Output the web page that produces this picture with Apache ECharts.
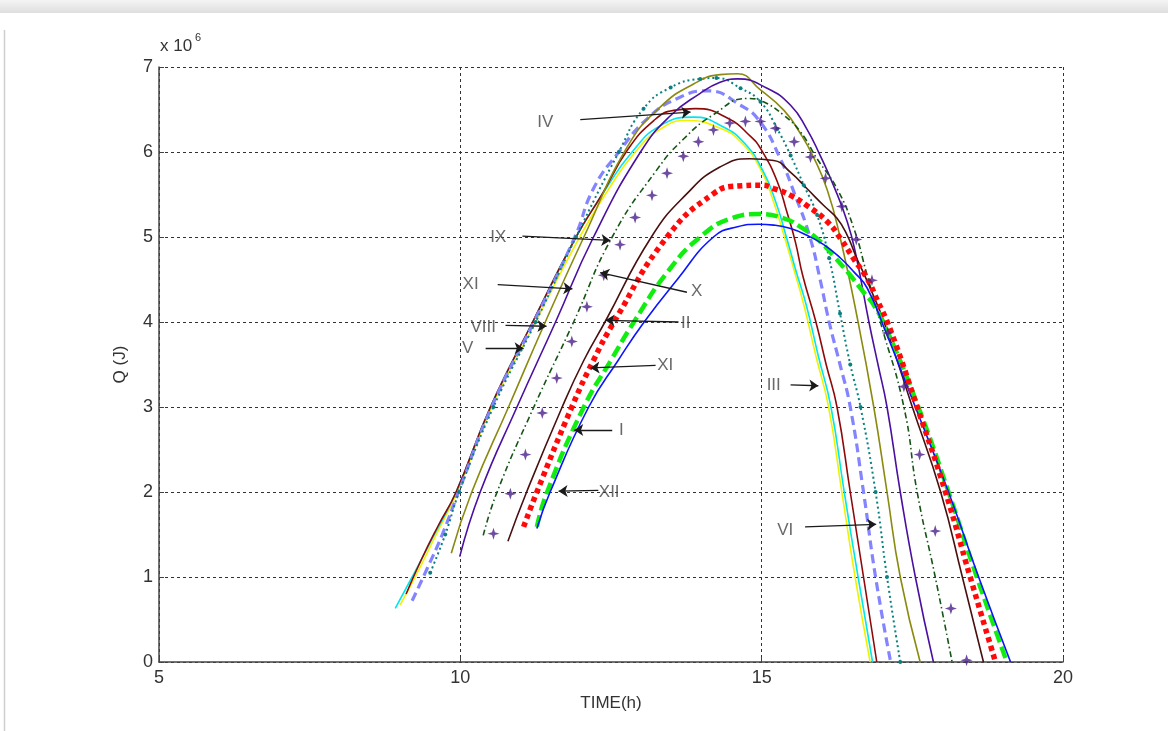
<!DOCTYPE html>
<html>
<head>
<meta charset="utf-8">
<script src="https://cdn.jsdelivr.net/npm/echarts@6/dist/echarts.min.js"></script>
<style>
  html, body { margin: 0; padding: 0; background: #ffffff; }
  #chart { width: 1168px; height: 731px; }
</style>
</head>
<body>
<div id="chart"></div>
<script>
// Heat gain Q (x10^6 J) against time of day (h), one curve per month.
// Each array holds [time (h), Q (x10^6 J)] pairs.
const qYellow = [[9.0,0.67],[9.25,1.0],[9.6,1.5],[9.95,2.0],[10.52,3.0],[11.25,4.0],[11.98,5.0],[12.45,5.55],[12.88,5.98],[13.32,6.27],[13.76,6.37],[14.31,6.28],[14.65,6.12],[14.98,5.8],[15.2,5.41],[15.37,5.02],[15.53,4.63],[15.7,4.2],[15.9,3.6],[16.11,3.0],[16.33,2.0],[16.55,1.0],[16.8,0]];
const qCyan = [[8.92,0.63],[9.2,1.0],[9.57,1.5],[9.93,2.0],[10.5,3.0],[11.2,4.0],[11.92,5.0],[12.4,5.55],[12.85,6.0],[13.32,6.31],[13.87,6.41],[14.35,6.3],[14.72,6.1],[15.02,5.78],[15.24,5.4],[15.41,5.0],[15.57,4.6],[15.74,4.2],[15.94,3.6],[16.15,3.0],[16.37,2.0],[16.6,1.0],[16.84,0]];
const qMaroon = [[9.1,0.8],[9.35,1.2],[9.63,1.6],[9.93,2.0],[10.5,3.0],[11.2,4.0],[11.92,5.0],[12.35,5.5],[12.77,6.02],[13.21,6.37],[13.54,6.49],[13.9,6.51],[14.43,6.4],[14.82,6.18],[15.0,6.02],[15.26,5.65],[15.42,5.29],[15.56,4.94],[15.68,4.55],[15.9,4.0],[16.07,3.5],[16.25,3.0],[16.47,2.0],[16.69,1.0],[16.91,0]];
const qLightBlue = [[9.2,0.72],[9.45,1.1],[9.7,1.5],[9.97,2.0],[10.52,3.0],[11.22,4.0],[11.9,5.0],[12.21,5.57],[12.63,6.0],[13.1,6.39],[13.6,6.63],[14.1,6.72],[14.65,6.55],[14.98,6.35],[15.31,5.92],[15.55,5.5],[15.8,5.0],[15.97,4.5],[16.12,4.0],[16.3,3.5],[16.47,3.0],[16.69,2.0],[16.89,1.0],[17.14,0]];
const qTeal = [[9.5,1.05],[9.75,1.5],[9.98,2.0],[10.55,3.0],[11.25,4.0],[11.92,5.0],[12.63,6.0],[13.04,6.51],[13.49,6.76],[13.98,6.86],[14.25,6.87],[14.65,6.75],[14.98,6.59],[15.26,6.27],[15.48,5.96],[15.7,5.61],[15.92,5.26],[16.12,4.75],[16.3,4.1],[16.47,3.5],[16.64,3.0],[16.89,2.0],[17.08,1.0],[17.3,0]];
const qOlive = [[9.85,1.28],[10.19,2.0],[10.8,3.0],[11.41,4.0],[12.05,5.0],[12.77,6.06],[13.32,6.53],[13.87,6.8],[14.31,6.91],[14.6,6.92],[14.98,6.73],[15.37,6.49],[15.64,6.22],[15.86,5.94],[16.09,5.55],[16.3,5.0],[16.6,4.0],[16.86,3.0],[17.08,2.0],[17.3,1.0],[17.63,0]];
const qIndigo = [[9.99,1.24],[10.33,2.0],[10.94,3.0],[11.58,4.0],[12.21,5.0],[12.99,6.0],[13.49,6.43],[13.98,6.69],[14.31,6.82],[14.6,6.86],[15.09,6.75],[15.48,6.55],[15.75,6.27],[15.97,5.96],[16.19,5.61],[16.42,5.18],[16.56,4.8],[16.78,4.0],[16.93,3.5],[17.08,3.0],[17.3,2.0],[17.55,1.0],[17.85,0]];
const qDashDot = [[10.38,1.49],[10.61,2.0],[11.22,3.0],[11.88,4.0],[12.52,5.0],[13.26,5.79],[13.7,6.15],[14.2,6.44],[14.76,6.63],[15.03,6.59],[15.37,6.43],[15.64,6.24],[15.92,5.92],[16.25,5.57],[16.53,5.1],[16.75,4.55],[16.97,4.0],[17.36,3.0],[17.58,2.0],[17.88,1.0],[18.16,0]];
const qStars = [[10.55,1.51],[10.83,1.98],[11.08,2.44],[11.36,2.93],[11.6,3.34],[11.85,3.77],[12.1,4.18],[12.38,4.55],[12.65,4.91],[12.9,5.23],[13.18,5.49],[13.43,5.75],[13.7,5.95],[13.95,6.12],[14.2,6.26],[14.47,6.34],[14.73,6.36],[14.98,6.36],[15.23,6.28],[15.54,6.12],[15.81,5.94],[16.06,5.69],[16.33,5.36],[16.57,4.97],[16.83,4.49],[17.09,3.87],[17.36,3.24],[17.62,2.44],[17.88,1.54],[18.14,0.63],[18.4,0.02]];
const qBrown = [[10.79,1.42],[11.1,2.0],[11.69,3.0],[12.05,3.55],[12.4,4.0],[13.17,5.0],[13.76,5.51],[14.3,5.82],[14.8,5.92],[15.2,5.9],[15.48,5.76],[15.75,5.57],[16.03,5.37],[16.25,5.22],[16.42,5.02],[16.56,4.78],[16.8,4.4],[17.03,4.0],[17.5,3.0],[17.97,2.0],[18.33,1.0],[18.68,0]];
const qRed = [[11.05,1.59],[11.27,2.0],[11.85,3.0],[12.21,3.55],[12.55,4.0],[13.43,5.0],[14.2,5.51],[14.6,5.6],[15.0,5.61],[15.2,5.57],[15.48,5.49],[15.75,5.37],[16.09,5.18],[16.31,4.98],[16.53,4.74],[16.75,4.51],[16.91,4.27],[17.14,3.9],[17.58,3.0],[18.05,2.0],[18.46,1.0],[18.88,0]];
const qGreen = [[11.27,1.59],[11.44,2.0],[12.05,3.0],[12.5,3.55],[12.88,4.0],[13.45,4.6],[13.98,5.0],[14.5,5.22],[14.95,5.27],[15.37,5.22],[15.64,5.12],[15.92,4.98],[16.19,4.78],[16.47,4.55],[16.69,4.35],[16.86,4.2],[17.08,3.9],[17.6,3.0],[18.1,2.0],[18.57,1.0],[19.07,0]];
const qBlue = [[11.27,1.57],[11.49,2.0],[12.13,3.0],[12.62,3.55],[13.05,4.0],[13.6,4.5],[14.2,5.0],[14.6,5.12],[14.95,5.15],[15.2,5.14],[15.48,5.1],[15.75,5.02],[16.03,4.91],[16.31,4.75],[16.53,4.59],[16.75,4.4],[17.05,3.9],[17.55,3.0],[18.1,2.0],[18.6,1.0],[19.13,0]];

// Axis ticks
const xTicks = [5, 10, 15, 20];
const yTicks = [0, 1, 2, 3, 4, 5, 6, 7];

// Month callouts: label text, label anchor, arrow tail and arrow head (data units)
const noteText = ['IV', 'IX', 'XI', 'X', 'VIII', 'II', 'V', 'XI', 'III', 'I', 'XII', 'VI'];
const notePos = [[11.41,6.35],[10.63,5.0],[10.17,4.44],[13.92,4.36],[10.38,3.94],[13.74,3.99],[10.12,3.69],[13.4,3.49],[15.2,3.26],[12.67,2.72],[12.47,2.0],[15.39,1.55]];
const arrowFrom = [[11.99,6.38],[11.03,5.01],[10.62,4.44],[13.76,4.35],[10.75,3.96],[13.62,4.0],[10.42,3.69],[13.24,3.49],[15.48,3.26],[12.52,2.73],[12.29,2.02],[15.72,1.59]];
const arrowTo = [[13.82,6.47],[12.49,4.96],[11.86,4.39],[12.32,4.58],[11.43,3.95],[12.41,4.02],[11.05,3.69],[12.16,3.46],[15.94,3.25],[11.89,2.73],[11.63,2.01],[16.9,1.62]];

const FONT = '"Liberation Sans", Arial, sans-serif';

function curve(name, data, color, width, dash, extra) {
  return Object.assign({
    type: 'line',
    name: name,
    data: data,
    showSymbol: false,
    smooth: 0.5,
    lineStyle: { color: color, width: width, type: dash || 'solid', cap: 'butt' },
    itemStyle: { color: color },
    emphasis: { disabled: true },
    silent: true
  }, extra || {});
}

const starPath = 'path://M0,-10 L2.4,-2.4 L10,0 L2.4,2.4 L0,10 L-2.4,2.4 L-10,0 L-2.4,-2.4 Z';

const series = [
  curve('III', qYellow, '#f2f200', 1.6),
  curve('cyan', qCyan, '#00e5ee', 1.6),
  curve('IV', qMaroon, '#8e0a0a', 1.6),
  curve('VI', qLightBlue, '#8484ff', 3.2, [9, 5]),
  curve('V', qTeal, '#0b8080', 2, [2, 3], {
    showSymbol: true, symbol: 'circle', symbolSize: 4
  }),
  curve('VIII', qOlive, '#8a8a10', 1.6),
  curve('XI', qIndigo, '#4a10a0', 1.6),
  curve('IX', qDashDot, '#155515', 1.6, [6, 3, 1.5, 3]),
  curve('II', qBrown, '#4a1010', 1.6),
  curve('I', qGreen, '#10ee10', 4.5, [12, 5]),
  curve('XII', qBlue, '#0a14ff', 1.6),
  curve('VII', qRed, '#ff0a0a', 5.5, [5, 4]),
  {
    type: 'scatter',
    name: 'X',
    data: qStars,
    symbol: starPath,
    symbolSize: 12,
    itemStyle: { color: '#4a1f8a' },
    silent: true,
    z: 5
  },
  {
    type: 'lines',
    coordinateSystem: 'cartesian2d',
    polyline: false,
    silent: true,
    symbol: ['none', 'arrow'],
    symbolSize: 9,
    lineStyle: { color: '#1a1a1a', width: 1.3, opacity: 1, curveness: 0 },
    data: arrowFrom.map((p, i) => ({ coords: [p, arrowTo[i]] })),
    z: 6
  },
  {
    type: 'scatter',
    silent: true,
    symbolSize: 0,
    data: notePos.map((p, i) => [p[0], p[1], noteText[i]]),
    label: {
      show: true,
      position: 'inside',
      formatter: (p) => p.value[2],
      color: '#444',
      fontFamily: FONT,
      fontSize: 17
    },
    z: 7
  }
];

const chart = echarts.init(document.getElementById('chart'), null, { renderer: 'canvas' });

chart.setOption({
  animation: false,
  backgroundColor: '#ffffff',
  grid: { left: 159, top: 67, width: 904, height: 595, containLabel: false },
  xAxis: {
    type: 'value',
    min: xTicks[0],
    max: xTicks[xTicks.length - 1],
    interval: 5,
    name: 'TIME(h)',
    nameLocation: 'middle',
    nameGap: 33,
    nameTextStyle: { color: '#333', fontFamily: FONT, fontSize: 17 },
    axisLine: { show: true, onZero: false, lineStyle: { color: '#444', width: 1.5 } },
    axisTick: { show: true, inside: true, length: 5, lineStyle: { color: '#444' } },
    axisLabel: { color: '#333', fontFamily: FONT, fontSize: 18, margin: 7 },
    splitLine: { show: true, lineStyle: { color: '#333', width: 1, type: [3, 3] } }
  },
  yAxis: {
    type: 'value',
    min: yTicks[0],
    max: yTicks[yTicks.length - 1],
    interval: 1,
    name: 'Q (J)',
    nameLocation: 'middle',
    nameGap: 30,
    nameRotate: 90,
    nameTextStyle: { color: '#333', fontFamily: FONT, fontSize: 17 },
    axisLine: { show: true, onZero: false, lineStyle: { color: '#444', width: 1.5 } },
    axisTick: { show: true, inside: true, length: 5, lineStyle: { color: '#444' } },
    axisLabel: { color: '#333', fontFamily: FONT, fontSize: 18, margin: 6 },
    splitLine: { show: true, lineStyle: { color: '#333', width: 1, type: [3, 3] } }
  },
  graphic: [
    {
      type: 'rect',
      shape: { x: 0, y: 0, width: 1168, height: 13 },
      style: {
        fill: new echarts.graphic.LinearGradient(0, 0, 0, 1, [
          { offset: 0, color: '#f4f4f4' },
          { offset: 1, color: '#dedede' }
        ])
      },
      silent: true
    },
    {
      type: 'line',
      shape: { x1: 4.5, y1: 30, x2: 4.5, y2: 731 },
      style: { stroke: '#cfcfcf', lineWidth: 1.5 },
      silent: true
    },
    {
      type: 'text',
      left: 160,
      top: 38,
      style: { text: 'x 10', fill: '#333', font: '17px ' + FONT },
      silent: true
    },
    {
      type: 'text',
      left: 195,
      top: 32,
      style: { text: '6', fill: '#333', font: '11px ' + FONT },
      silent: true
    }
  ],
  series: series
});
</script>
</body>
</html>
